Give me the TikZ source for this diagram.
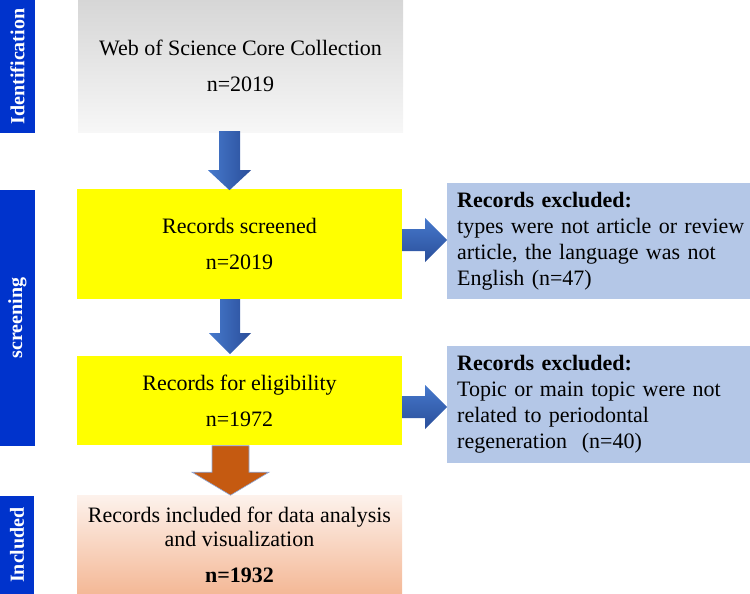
\documentclass[tikz,border=0pt]{standalone}
\usepackage{fontspec}
\setmainfont{Liberation Serif}
\usetikzlibrary{calc}
\definecolor{sideblue}{HTML}{0033CC}
\definecolor{exblue}{HTML}{B4C7E7}
\definecolor{ylw}{HTML}{FFFF00}
\definecolor{grayTop}{HTML}{D6D6D6}
\definecolor{grayBot}{HTML}{F7F7F7}
\definecolor{peachTop}{HTML}{FDF2EC}
\definecolor{peachBot}{HTML}{F4B896}
\definecolor{arrLight}{HTML}{4679CC}
\definecolor{arrDark}{HTML}{2A4E9A}
\definecolor{arrOrange}{HTML}{C55A11}
\definecolor{arrEdge}{HTML}{8FAADC}
\begin{document}
\begin{tikzpicture}[x=1pt,y=-1pt,
  sidebar/.style={fill=sideblue, text=white, inner sep=0pt, rotate=90,
    font=\bfseries\fontsize{20}{20}\selectfont},
  mainbox/.style={inner sep=0pt, minimum width=325pt, align=center,
    font=\fontsize{22}{36}\selectfont},
  exbox/.style={fill=exblue, inner xsep=10pt, inner ysep=0pt, text width=300pt,
    anchor=west, align=left, font=\fontsize{22}{26}\selectfont},
  downarrow/.style={left color=arrLight, right color=arrDark},
  rightarrow/.style={top color=arrLight, bottom color=arrDark},
  orangearrow/.style={fill=arrOrange, draw=arrEdge, line width=0.6pt}
]
\useasboundingbox (0,0) rectangle (750,594);

% side labels
\node[sidebar, minimum width=133pt, minimum height=35pt] (sideId) at (17.5,66.5) {Identification};
\node[sidebar, minimum width=256pt, minimum height=35pt] (sideScr) at (17.5,318) {screening};
\node[sidebar, minimum width=98pt, minimum height=34pt] (sideInc) at (17,545) {Included};

% main boxes
\node[mainbox, minimum height=132pt, top color=grayTop, bottom color=grayBot] (wos) at (240.5,66)
  {Web of Science Core Collection\\n=2019};
\node[mainbox, minimum height=110pt, fill=ylw] (scr) at (239.5,244)
  {Records screened\\n=2019};
\node[mainbox, minimum height=89pt, fill=ylw] (elig) at (239.5,400.5)
  {Records for eligibility\\n=1972};
\node[mainbox, minimum height=99pt, top color=peachTop, bottom color=peachBot,
  font=\fontsize{22}{24}\selectfont] (inc) at (239.5,544.5)
  {Records included for data analysis\\and visualization\\[12pt]\textbf{n=1932}};

% exclusion boxes
\node[exbox, minimum height=116pt] (ex1) at (447,241)
  {\textbf{Records excluded:}\\types were not article or review\\article, the language was not\\English (n=47)};
\node[exbox, minimum height=117pt] (ex2) at (447,404.5)
  {\textbf{Records excluded:}\\Topic or main topic were not\\related to periodontal\\regeneration\ \ (n=40)};

% downward arrows
\shade[downarrow] ($(wos.south)+(-21.5,-1)$) -- ++(21,0) -- ++(0,39) -- ++(11,0)
  -- ++(-21.5,20) -- ++(-21.5,-20) -- ++(11,0) -- cycle;
\shade[downarrow] ($(scr.south)+(-19.5,0)$) -- ++(20,0) -- ++(0,34) -- ++(11,0)
  -- ++(-21,21) -- ++(-21,-21) -- ++(11,0) -- cycle;
\path[orangearrow] ($(elig.south)+(-27.5,0.5)$) -- ++(37,0) -- ++(0,26.5) -- ++(20,0)
  -- ++(-38.5,23) -- ++(-38.5,-23) -- ++(20,0) -- cycle;

% right arrows
\shade[rightarrow] ($(scr.east)+(0,-15)$) -- ++(23,0) -- ++(0,-11) -- ++(22,22)
  -- ++(-22,22) -- ++(0,-11) -- ++(-23,0) -- cycle;
\shade[rightarrow] ($(elig.east)+(0,-4.5)$) -- ++(23,0) -- ++(0,-11) -- ++(22,22)
  -- ++(-22,22) -- ++(0,-11) -- ++(-23,0) -- cycle;
\end{tikzpicture}
\end{document}
